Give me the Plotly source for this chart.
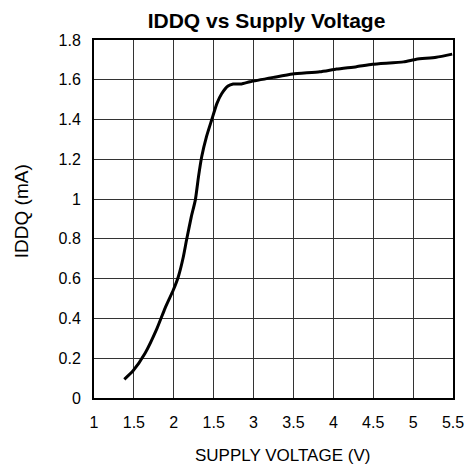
import plotly.graph_objects as go

voltage = [1.38, 1.49, 1.64, 1.79, 1.89, 1.994, 2.057, 2.12, 2.16, 2.22, 2.27, 2.31, 2.35, 2.41,
           2.475, 2.54, 2.60, 2.68, 2.745, 2.85, 2.955, 3.25, 3.49, 3.83, 4.04, 4.29, 4.49,
           4.88, 5.04, 5.29, 5.49]
iddq = [0.094, 0.137, 0.225, 0.35, 0.451, 0.543, 0.61, 0.71, 0.794, 0.912, 0.995, 1.113, 1.213, 1.314,
        1.398, 1.48, 1.53, 1.569, 1.579, 1.579, 1.59, 1.612, 1.629, 1.64, 1.654, 1.666, 1.678,
        1.69, 1.703, 1.713, 1.729]

x_tickvals = [1, 1.5, 2, 2.5, 3, 3.5, 4, 4.5, 5, 5.5]
x_ticktext = ["1", "1.5", "2", "1.5", "3", "3.5", "4", "4.5", "5", "5.5"]
y_tickvals = [0, 0.2, 0.4, 0.6, 0.8, 1, 1.2, 1.4, 1.6, 1.8]
y_ticktext = ["0", "0.2", "0.4", "0.6", "0.8", "1", "1.2", "1.4", "1.6", "1.8"]

L, R, T, B = 94, 17, 40, 72
W = H = 470
pw, ph = W - L - R, H - T - B

fig = go.Figure()
fig.add_trace(go.Scatter(x=voltage, y=iddq, mode="lines",
                         line=dict(color="black", width=3, shape="spline", smoothing=0.5),
                         showlegend=False, hoverinfo="skip"))

font_family = "Liberation Sans, Arial, sans-serif"
fig.update_layout(
    width=W, height=H,
    paper_bgcolor="white", plot_bgcolor="white",
    margin=dict(l=L, r=R, t=T, b=B),
    title=dict(text="<b>IDDQ vs Supply Voltage</b>", x=266.5 / W, xanchor="center",
               xref="container", yref="container", y=1 - 21 / H, yanchor="middle",
               font=dict(family=font_family, size=21, color="black")),
    font=dict(family=font_family, size=16, color="black"),
)
fig.update_xaxes(range=[1, 5.5], tickvals=x_tickvals, ticktext=x_ticktext,
                 showgrid=True, gridcolor="#333333", gridwidth=1,
                 showline=True, linecolor="black", linewidth=2, mirror=True,
                 zeroline=False, ticks="", ticklen=0, ticklabelstandoff=9,
                 automargin=False, tickfont=dict(size=16))
fig.update_yaxes(range=[0, 1.8], tickvals=y_tickvals, ticktext=y_ticktext,
                 showgrid=True, gridcolor="#333333", gridwidth=1,
                 showline=True, linecolor="black", linewidth=2, mirror=True,
                 zeroline=False, ticks="", ticklen=0, ticklabelstandoff=8,
                 automargin=False, tickfont=dict(size=16))

fig.add_annotation(text="SUPPLY VOLTAGE (V)", xref="paper", yref="paper",
                   x=(282 - L) / pw, y=-(455 - (H - B)) / ph,
                   xanchor="center", yanchor="middle", showarrow=False,
                   font=dict(family=font_family, size=17, color="black"))
fig.add_annotation(text="IDDQ (mA)", xref="paper", yref="paper",
                   x=-(L - 21.5) / pw, y=(H - B - 211.7) / ph,
                   xanchor="center", yanchor="middle", showarrow=False, textangle=-90,
                   font=dict(family=font_family, size=19, color="black"))

fig.write_html("out.html", config={"displayModeBar": False},
               post_script="document.body.style.margin='0px';document.body.style.overflow='hidden';")
